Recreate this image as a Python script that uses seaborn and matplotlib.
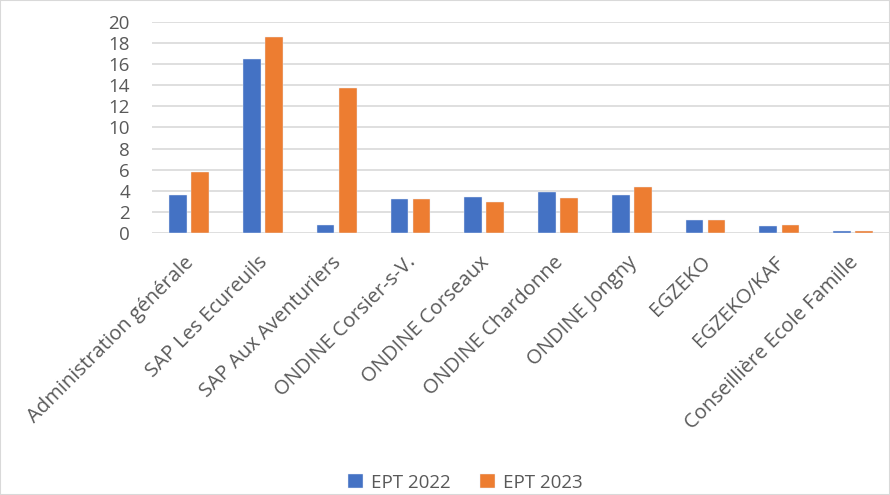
import numpy as np
import pandas as pd
import matplotlib.pyplot as plt
import matplotlib.transforms as mtrans
import seaborn as sns

categories = ["Administration générale", "SAP Les Ecureuils", "SAP Aux Aventuriers",
              "ONDINE Corsier-s-V.", "ONDINE Corseaux", "ONDINE Chardonne",
              "ONDINE Jongny", "EGZEKO", "EGZEKO/KAF", "Conseillière Ecole Famille"]
ept_2022 = [3.6, 16.5, 0.8, 3.25, 3.45, 3.9, 3.65, 1.2, 0.7, 0.2]
ept_2023 = [5.8, 18.6, 13.7, 3.25, 2.9, 3.35, 4.4, 1.2, 0.75, 0.2]
series = ["EPT 2022", "EPT 2023"]

df = pd.DataFrame({
    "cat": categories * 2,
    "val": ept_2022 + ept_2023,
    "serie": [series[0]] * len(categories) + [series[1]] * len(categories),
})

sns.set_style("white")
plt.rcParams['font.family'] = ['Open Sans', 'DejaVu Sans']
txt = '#595959'

fig = plt.figure(figsize=(8.9, 4.95), dpi=100)
ax = fig.add_axes([0.171, 0.529, 0.829, 0.427])

sns.barplot(data=df, x="cat", y="val", hue="serie", ax=ax,
            palette=["#4472C4", "#ED7D31"], saturation=1, width=0.6, gap=0.2,
            edgecolor="#E8EEF8", linewidth=0.3)

ax.set_ylim(0, 20)
ax.set_yticks(range(0, 21, 2))
ax.set_xlim(-0.5, len(categories) - 0.5)
ax.yaxis.grid(True, color='#D9D9D9', linewidth=1.2)
ax.set_axisbelow(True)
for s in ax.spines.values():
    s.set_visible(False)
ax.set_xlabel("")
ax.set_ylabel("")
ax.tick_params(axis='y', length=0, pad=16, labelsize=13.5, labelcolor=txt)
ax.tick_params(axis='x', length=0, pad=19, labelsize=14.5, labelcolor=txt)
shift = mtrans.ScaledTranslation(2 / 100, 0, fig.dpi_scale_trans)
for lab in ax.get_xticklabels():
    lab.set_rotation(45)
    lab.set_ha('right')
    lab.set_va('center')
    lab.set_rotation_mode('anchor')
    lab.set_transform(lab.get_transform() + shift)

leg = ax.get_legend()
handles = leg.legend_handles
leg.remove()
fig.legend(handles=handles, labels=series, loc='center',
           bbox_to_anchor=(0.523, 0.025), ncol=2, frameon=False,
           fontsize=13.5, labelcolor=txt, handlelength=0.8, handleheight=0.8,
           columnspacing=1.6, handletextpad=0.4)

fig.patches.append(plt.Rectangle((0, 0), 1, 1, transform=fig.transFigure,
                                 fill=False, edgecolor='#D9D9D9', linewidth=1.5))

fig.savefig("out.png", dpi=100)
